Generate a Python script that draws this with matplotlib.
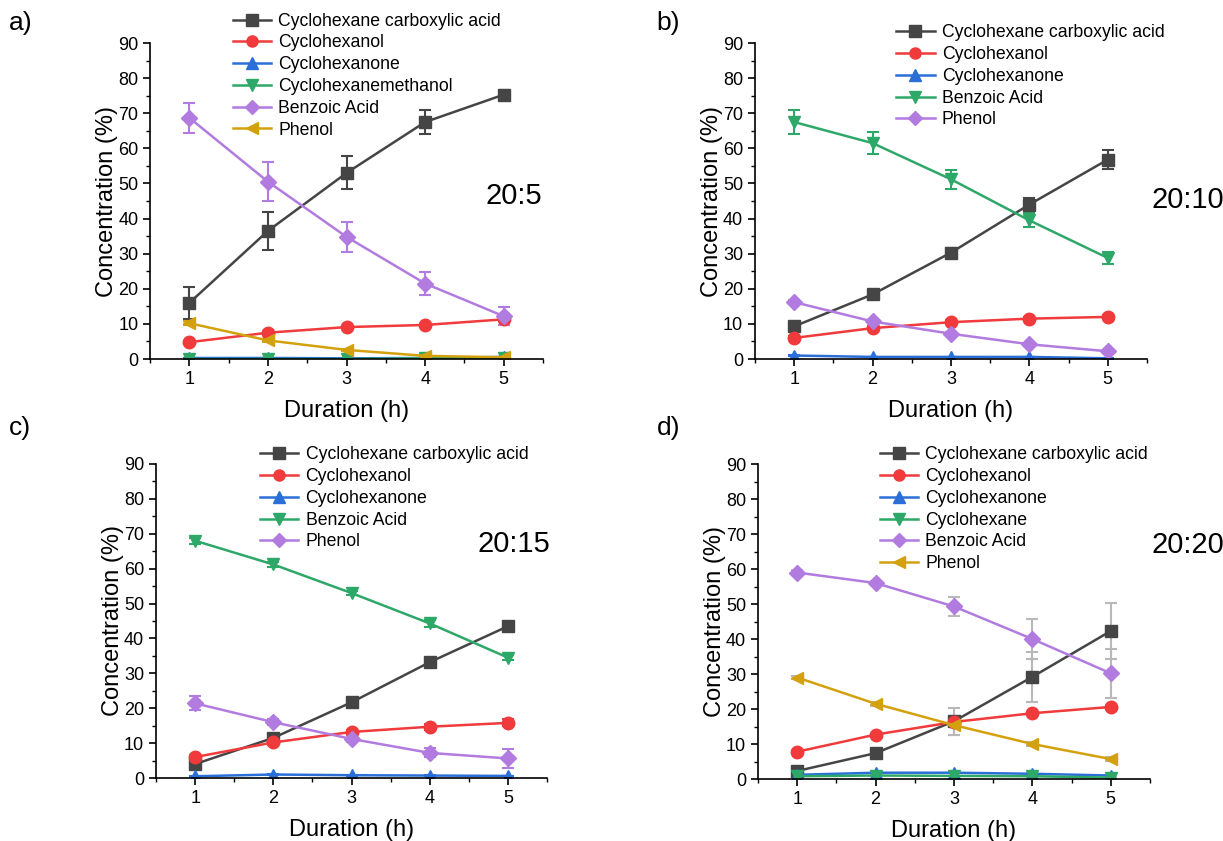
import matplotlib
matplotlib.use("Agg")
import matplotlib.pyplot as plt
from matplotlib.lines import Line2D
from matplotlib.ticker import MultipleLocator

plt.rcParams['font.family'] = ['Liberation Sans', 'DejaVu Sans']

hours = [1, 2, 3, 4, 5]

# series styles by compound name
STYLE = {
    'Cyclohexane carboxylic acid': ('#454545', 's'),
    'Cyclohexanol': ('#f03a3c', 'o'),
    'Cyclohexanone': ('#2a6fd8', '^'),
    'Cyclohexanemethanol': ('#2ea868', 'v'),
    'Cyclohexane': ('#2ea868', 'v'),
}

# panel a) 20:5
a_names = ['Cyclohexane carboxylic acid', 'Cyclohexanol', 'Cyclohexanone',
           'Cyclohexanemethanol', 'Benzoic Acid', 'Phenol']
a_vals = [
    [16.0, 36.5, 53.0, 67.5, 75.3],
    [4.8, 7.5, 9.1, 9.7, 11.3],
    [0.3, 0.3, 0.2, 0.3, 0.6],
    [0.0, 0.0, 0.0, 0.2, 0.3],
    [68.7, 50.5, 34.8, 21.5, 12.2],
    [10.2, 5.3, 2.6, 0.9, 0.5],
]
a_errs = [
    [4.5, 5.4, 4.7, 3.5, 1.2],
    [0.4, 0.4, 0.4, 0.4, 1.5],
    [0.1, 0.1, 0.1, 0.1, 0.1],
    [0.0, 0.0, 0.0, 0.0, 0.0],
    [4.2, 5.5, 4.3, 3.4, 2.6],
    [0.6, 0.4, 0.3, 0.2, 0.2],
]

# panel b) 20:10
b_names = ['Cyclohexane carboxylic acid', 'Cyclohexanol', 'Cyclohexanone',
           'Benzoic Acid', 'Phenol']
b_vals = [
    [9.3, 18.4, 30.3, 44.0, 56.8],
    [6.0, 8.8, 10.5, 11.5, 12.0],
    [1.0, 0.6, 0.6, 0.6, 0.2],
    [67.5, 61.5, 51.2, 39.5, 28.8],
    [16.2, 10.7, 7.2, 4.2, 2.2],
]
b_errs = [
    [0.8, 0.8, 1.2, 2.0, 2.8],
    [0.5, 0.5, 0.5, 0.5, 0.5],
    [0.1, 0.1, 0.1, 0.1, 0.1],
    [3.3, 3.2, 2.7, 2.0, 1.6],
    [0.5, 0.5, 0.5, 0.4, 0.3],
]

# panel c) 20:15
c_names = b_names
c_vals = [
    [4.0, 11.5, 21.7, 33.2, 43.5],
    [6.0, 10.2, 13.2, 14.7, 15.8],
    [0.5, 1.0, 0.8, 0.7, 0.6],
    [68.0, 61.2, 53.0, 44.3, 34.5],
    [21.4, 16.0, 11.2, 7.2, 5.6],
]
c_errs = [
    [0.5, 0.6, 0.8, 1.3, 1.3],
    [0.6, 0.6, 0.6, 0.9, 1.0],
    [0.1, 0.1, 0.1, 0.1, 0.1],
    [0.8, 0.6, 0.6, 1.0, 0.8],
    [2.0, 0.8, 1.0, 1.3, 2.6],
]

# panel d) 20:20
d_names = ['Cyclohexane carboxylic acid', 'Cyclohexanol', 'Cyclohexanone',
           'Cyclohexane', 'Benzoic Acid', 'Phenol']
d_vals = [
    [2.3, 7.4, 16.5, 29.2, 42.3],
    [7.8, 12.7, 16.3, 18.8, 20.6],
    [1.2, 1.8, 1.8, 1.5, 1.0],
    [0.8, 1.0, 0.9, 0.8, 0.4],
    [59.0, 56.0, 49.3, 40.0, 30.2],
    [29.0, 21.5, 15.4, 10.0, 5.7],
]
d_errs = [
    [0.4, 0.5, 3.8, 7.2, 8.0],
    [0.4, 0.4, 0.4, 0.4, 0.5],
    [0.1, 0.1, 0.1, 0.1, 0.1],
    [0.1, 0.1, 0.1, 0.1, 0.1],
    [0.6, 0.6, 2.7, 5.8, 7.0],
    [0.5, 0.5, 2.7, 0.5, 0.5],
]


def series_style(name, panel_names):
    # benzoic acid / phenol take the next free colour slot in Origin's order
    if name in STYLE:
        return STYLE[name]
    extra = [('#2ea868', 'v'), ('#b27be0', 'D'), ('#d4a10e', '<')]
    idx = panel_names.index(name) - 3
    return extra[idx]


def draw_panel(ax, names, vals, errs, ratio, ratio_xy, leg_xy, faint_err=False):
    handles = []
    for name, v, e in zip(names, vals, errs):
        color, marker = series_style(name, names)
        ms = 8 if marker == 'D' else 9
        ax.errorbar(hours, v, yerr=e, color=color, marker=marker, markersize=ms,
                    linewidth=1.8, elinewidth=1.5, capsize=4, capthick=1.5,
                    ecolor='#b8b8b8' if faint_err else color)
        handles.append(Line2D([], [], color=color, marker=marker, markersize=ms - 1,
                              linewidth=1.8, label=name))
    ax.set_xlim(0.5, 5.5)
    ax.set_ylim(0, 90)
    ax.xaxis.set_major_locator(MultipleLocator(1))
    ax.xaxis.set_minor_locator(MultipleLocator(0.5))
    ax.yaxis.set_major_locator(MultipleLocator(10))
    ax.yaxis.set_minor_locator(MultipleLocator(5))
    ax.spines['top'].set_visible(False)
    ax.spines['right'].set_visible(False)
    for s in ('left', 'bottom'):
        ax.spines[s].set_linewidth(1.2)
    ax.tick_params(which='major', direction='out', length=5, width=1.2, labelsize=13)
    ax.tick_params(which='minor', direction='out', length=3, width=1.0)
    ax.set_xlabel('Duration (h)', fontsize=17, labelpad=9)
    ax.set_ylabel('Concentration (%)', fontsize=17, labelpad=0)
    ax.text(ratio_xy[0], ratio_xy[1], ratio, transform=ax.transAxes,
            fontsize=21, ha='center', va='center')
    ax.legend(handles=handles, loc='upper left', bbox_to_anchor=leg_xy,
              frameon=False, fontsize=12.7, handlelength=2.2, handletextpad=0.4,
              labelspacing=0.27, borderpad=0, borderaxespad=0)


fig = plt.figure(figsize=(12.23, 8.41), dpi=100)
ax_a = fig.add_axes([0.1227, 0.5731, 0.3213, 0.3757])
ax_b = fig.add_axes([0.6173, 0.5731, 0.3205, 0.3757])
ax_c = fig.add_axes([0.1276, 0.0749, 0.3197, 0.3734])
ax_d = fig.add_axes([0.6198, 0.0737, 0.3205, 0.3745])

draw_panel(ax_a, a_names, a_vals, a_errs, '20:5', (0.926, 0.516), (0.21, 1.096))
draw_panel(ax_b, b_names, b_vals, b_errs, '20:10', (1.105, 0.503), (0.36, 1.059))
draw_panel(ax_c, c_names, c_vals, c_errs, '20:15', (0.916, 0.745), (0.265, 1.056))
draw_panel(ax_d, d_names, d_vals, d_errs, '20:20', (1.097, 0.743), (0.31, 1.056),
           faint_err=True)

for lbl, x, y in [('a)', 0.007, 0.973), ('b)', 0.537, 0.973),
                  ('c)', 0.007, 0.491), ('d)', 0.537, 0.491)]:
    fig.text(x, y, lbl, fontsize=19, ha='left', va='center')

fig.savefig('out.png', dpi=100)
